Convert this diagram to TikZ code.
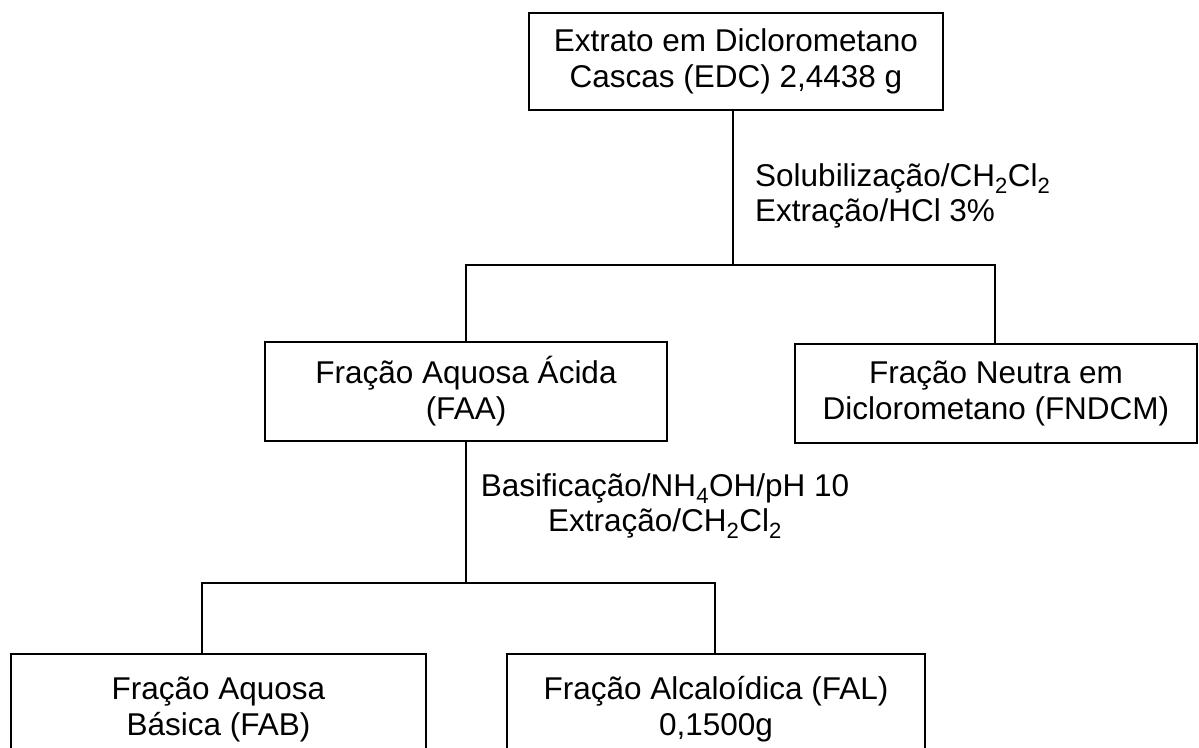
\documentclass[tikz,border=0pt]{standalone}
\usepackage{fontspec}
\setmainfont{Liberation Sans}
\begin{document}
\begin{tikzpicture}[x=1pt,y=-1pt,
  box/.style={draw,line width=2.6pt,inner sep=0pt,align=center,
    font=\fontsize{31.5}{36}\selectfont},
  conn/.style={line width=2pt},
  lbl/.style={inner sep=0pt,font=\fontsize{31.5}{35}\selectfont}]
\useasboundingbox (0,0) rectangle (1199,747);
\clip (0,0) rectangle (1199,747);
\node[box,minimum width=414pt,minimum height=97pt] (edc) at (736,61.5)
  {Extrato em Diclorometano\\Cascas (EDC) 2,4438 g};
\node[box,minimum width=402pt,minimum height=99pt] (faa) at (466,391.5)
  {Fração Aquosa Ácida\\(FAA)};
\node[box,minimum width=402pt,minimum height=99pt] (fndcm) at (996,393.5)
  {Fração Neutra em\\Diclorometano (FNDCM)};
\node[box,minimum width=415pt,minimum height=110pt] (fab) at (218.5,709)
  {Fração Aquosa\\Básica (FAB)};
\node[box,minimum width=418pt,minimum height=110pt] (fal) at (716,709)
  {Fração Alcaloídica (FAL)\\0,1500g};
\coordinate (j1) at (733,265);
\coordinate (d0) at (995,265);
\coordinate (j2) at (466,583);
\coordinate (d1) at (202,583);
\coordinate (d2) at (715,583);
\node[lbl,align=left,anchor=west] (l1) at (755,196)
  {Solubilização/CH\textsubscript{2}Cl\textsubscript{2}\\Extração/HCl 3\%};
\node[lbl,align=center] (l2) at (665,506)
  {Basificação/NH\textsubscript{4}OH/pH 10\\Extração/CH\textsubscript{2}Cl\textsubscript{2}};
\draw[conn] (edc.south -| j1) -- (j1);
\draw[conn] (faa.north) |- (d0) -- (fndcm.north -| d0);
\draw[conn] (faa.south) -- (j2);
\draw[conn] (fab.north -| d1) -- (d1) -- (d2) -- (fal.north -| d2);
\end{tikzpicture}
\end{document}
